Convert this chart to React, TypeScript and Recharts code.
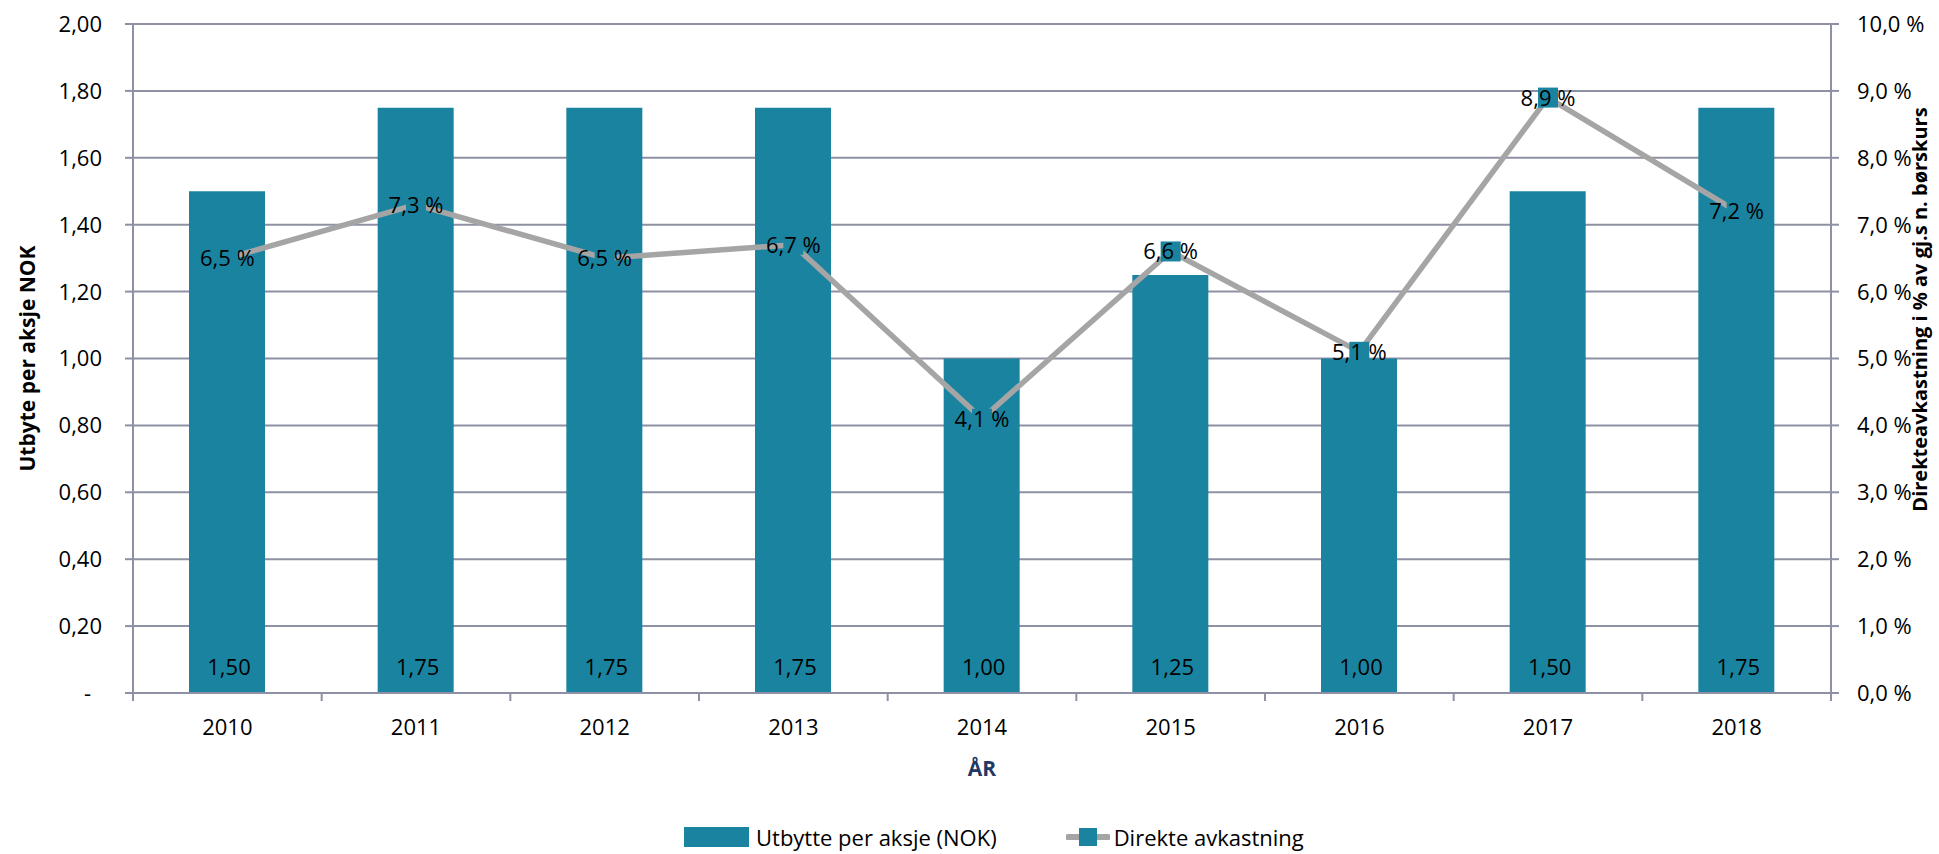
import React from 'react';
import {
  ComposedChart,
  Bar,
  Line,
  XAxis,
  YAxis,
  CartesianGrid,
  Legend,
  LabelList,
  Label,
} from 'recharts';

const years = ['2010', '2011', '2012', '2013', '2014', '2015', '2016', '2017', '2018'];
const dividends = [1.5, 1.75, 1.75, 1.75, 1.0, 1.25, 1.0, 1.5, 1.75];
const yieldPct = [6.5, 7.3, 6.5, 6.7, 4.1, 6.6, 5.1, 8.9, 7.2];
const leftTicks = [0, 0.2, 0.4, 0.6, 0.8, 1.0, 1.2, 1.4, 1.6, 1.8, 2.0];
const rightTicks = [0, 1, 2, 3, 4, 5, 6, 7, 8, 9, 10];

const seriesNames = ['Utbytte per aksje (NOK)', 'Direkte avkastning'];
const leftTitle = 'Utbyte per aksje NOK';
const rightTitle = 'Direkteavkastning i % av gj.s n. børskurs';
const xTitle = 'ÅR';

const data = years.map((year, i) => ({
  year,
  dividend: dividends[i],
  yield: yieldPct[i],
}));

const FONT = "'Open Sans', sans-serif";
const TEAL = '#1A84A0';
const GRAY = '#A5A5A5';
const GRID = '#8E90A3';
const NAVY = '#203864';
const FS = 22;

const fmtLeft = (v: number) => (v === 0 ? '-' : v.toFixed(2).replace('.', ','));
const fmtRight = (v: number) => v.toFixed(1).replace('.', ',') + ' %';

const LeftTick = (props: any) => {
  const { x, y, payload } = props;
  const isZero = payload.value === 0;
  return (
    <text
      x={isZero ? x - 11 : x}
      y={y}
      dy="0.36em"
      textAnchor="end"
      fontFamily={FONT}
      fontSize={FS}
      fill="#000"
    >
      {fmtLeft(payload.value)}
    </text>
  );
};

const RightTick = (props: any) => {
  const { x, y, payload } = props;
  return (
    <text x={x} y={y} dy="0.36em" textAnchor="start" fontFamily={FONT} fontSize={FS} fill="#000">
      {fmtRight(payload.value)}
    </text>
  );
};

const XTick = (props: any) => {
  const { x, y, payload, width, visibleTicksCount, index } = props;
  const band = (width || 1698) / (visibleTicksCount || years.length);
  const isLast = index === (visibleTicksCount || years.length) - 1;
  return (
    <g>
      <line x1={x - band / 2} x2={x - band / 2} y1={y - 8} y2={y} stroke={GRID} strokeWidth={2} />
      {isLast && (
        <line x1={x + band / 2} x2={x + band / 2} y1={y - 8} y2={y} stroke={GRID} strokeWidth={2} />
      )}
      <text x={x} y={y} dy={34} textAnchor="middle" fontFamily={FONT} fontSize={FS} fill="#000">
        {payload.value}
      </text>
    </g>
  );
};

const BarValueLabel = (props: any) => {
  const { x, y, width, height, value } = props;
  return (
    <text
      x={x + width / 2 + 2}
      y={y + height - 26}
      dy="0.36em"
      textAnchor="middle"
      fontFamily={FONT}
      fontSize={FS}
      fill="#000"
    >
      {fmtLeft(value)}
    </text>
  );
};

const LineValueLabel = (props: any) => {
  const { x, y, value } = props;
  return (
    <text x={x} y={y} dy="0.36em" textAnchor="middle" fontFamily={FONT} fontSize={FS} fill="#000">
      {fmtRight(value)}
    </text>
  );
};

const SquareDot = (props: any) => {
  const { cx, cy, index } = props;
  if (cx == null || cy == null) return <g key={index} />;
  return <rect key={index} x={cx - 10} y={cy - 10} width={20} height={20} fill={TEAL} />;
};

const renderLegend = () => (
  <div
    style={{
      display: 'flex',
      alignItems: 'center',
      height: 34,
      paddingLeft: 684,
      fontFamily: FONT,
      fontSize: FS,
      color: '#000',
      whiteSpace: 'nowrap',
    }}
  >
    <div style={{ display: 'flex', alignItems: 'center' }}>
      <div style={{ width: 65, height: 20, background: TEAL }} />
      <span style={{ marginLeft: 7 }}>{seriesNames[0]}</span>
    </div>
    <div style={{ display: 'flex', alignItems: 'center', marginLeft: 69 }}>
      <svg width={44} height={20}>
        <line x1={2} x2={42} y1={10} y2={10} stroke={GRAY} strokeWidth={6} strokeLinecap="round" />
        <rect x={13} y={1} width={18} height={18} fill={TEAL} />
      </svg>
      <span style={{ marginLeft: 4 }}>{seriesNames[1]}</span>
    </div>
  </div>
);

export default function App() {
  return (
    <div style={{ position: 'absolute', left: 0, top: 0, width: 1939, height: 854, background: '#fff' }}>
      <ComposedChart
        width={1939}
        height={854}
        data={data}
        margin={{ top: 24, right: 0, bottom: 0, left: 0 }}
      >
        <CartesianGrid vertical={false} stroke={GRID} strokeWidth={2} yAxisId="left" />
        <XAxis
          dataKey="year"
          height={127}
          tickLine={false}
          tickSize={8}
          tickMargin={0}
          axisLine={{ stroke: GRID, strokeWidth: 2 }}
          tick={<XTick />}
          interval={0}
        >
          <Label
            content={(p: any) => {
              const vb = p.viewBox || { x: 133, y: 693, width: 1698 };
              return (
                <text
                  x={vb.x + vb.width / 2}
                  y={vb.y + 75}
                  dy="0.36em"
                  textAnchor="middle"
                  fontFamily={FONT}
                  fontSize={21}
                  fontWeight="bold"
                  fill={NAVY}
                >
                  {xTitle}
                </text>
              );
            }}
          />
        </XAxis>
        <YAxis
          yAxisId="left"
          orientation="left"
          width={133}
          domain={[0, 2]}
          ticks={leftTicks}
          interval={0}
          tickSize={8}
          tickMargin={23}
          tickLine={{ stroke: GRID, strokeWidth: 2 }}
          axisLine={{ stroke: GRID, strokeWidth: 2 }}
          tick={<LeftTick />}
        >
          <Label
            content={(p: any) => {
              const vb = p.viewBox || { x: 0, y: 24, width: 133, height: 669 };
              const cy = vb.y + vb.height / 2;
              return (
                <text
                  transform={`translate(${vb.x + 27}, ${cy}) rotate(-90)`}
                  dy="0.36em"
                  textAnchor="middle"
                  fontFamily={FONT}
                  fontSize={21}
                  fontWeight="bold"
                  fill="#000"
                >
                  {leftTitle}
                </text>
              );
            }}
          />
        </YAxis>
        <YAxis
          yAxisId="right"
          orientation="right"
          width={108}
          domain={[0, 10]}
          ticks={rightTicks}
          interval={0}
          tickSize={8}
          tickMargin={18}
          tickLine={{ stroke: GRID, strokeWidth: 2 }}
          axisLine={{ stroke: GRID, strokeWidth: 2 }}
          tick={<RightTick />}
        >
          <Label
            content={(p: any) => {
              const vb = p.viewBox || { x: 1831, y: 24, width: 108, height: 669 };
              const cy = vb.y + vb.height / 2 - 49;
              return (
                <text
                  transform={`translate(${vb.x + 89}, ${cy}) rotate(-90)`}
                  dy="0.36em"
                  textAnchor="middle"
                  fontFamily={FONT}
                  fontSize={20}
                  fontWeight="bold"
                  fill="#000"
                >
                  {rightTitle}
                </text>
              );
            }}
          />
        </YAxis>
        <Legend verticalAlign="bottom" height={34} content={renderLegend} />
        <Bar
          yAxisId="left"
          dataKey="dividend"
          name={seriesNames[0]}
          fill={TEAL}
          barSize={76}
          isAnimationActive={false}
        >
          <LabelList dataKey="dividend" content={<BarValueLabel />} />
        </Bar>
        <Line
          yAxisId="right"
          type="linear"
          dataKey="yield"
          name={seriesNames[1]}
          stroke={GRAY}
          strokeWidth={5.5}
          dot={<SquareDot />}
          activeDot={false}
          isAnimationActive={false}
        >
          <LabelList dataKey="yield" content={<LineValueLabel />} />
        </Line>
      </ComposedChart>
    </div>
  );
}
